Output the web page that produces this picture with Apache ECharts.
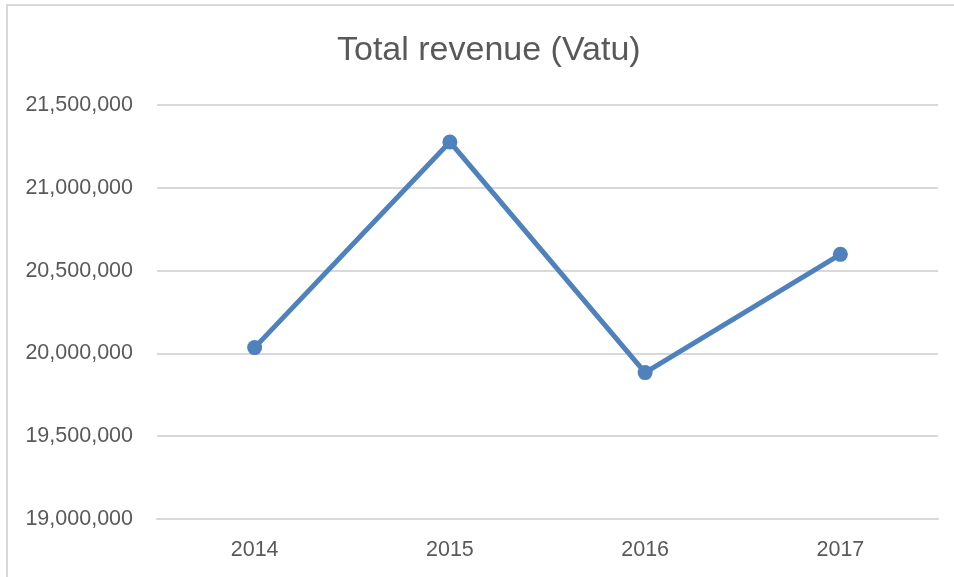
<!DOCTYPE html>
<html>
<head>
<meta charset="utf-8">
<script src="https://cdn.jsdelivr.net/npm/echarts@6/dist/echarts.min.js"></script>
<style>
  html, body { margin: 0; padding: 0; background: #fff; }
  #chart { width: 954px; height: 577px; }
</style>
</head>
<body>
<div id="chart"></div>
<script>
// data
var years = ["2014", "2015", "2016", "2017"];
var revenue = [20035000, 21277000, 19884000, 20598000];
var yMin = 19000000;
var yMax = 21500000;
var yStep = 500000;

var myChart = echarts.init(document.getElementById("chart"));
var font = "'Liberation Sans', Arial, sans-serif";

var option = {
  backgroundColor: "#fff",
  animation: false,
  title: {
    text: "Total revenue (Vatu)",
    left: 332,
    top: 29,
    textStyle: {
      color: "#595959",
      fontFamily: font,
      fontWeight: "normal",
      fontSize: 34,
    },
  },
  graphic: [
    {
      type: "rect",
      shape: { x: 7, y: 5, width: 1000, height: 1000 },
      style: { fill: "none", stroke: "#d9d9d9", lineWidth: 2 },
      silent: true,
    },
  ],
  grid: {
    left: 157,
    right: 16,
    top: 105,
    bottom: 58,
  },
  xAxis: {
    type: "category",
    data: years,
    boundaryGap: true,
    axisLine: { show: true, lineStyle: { color: "#d9d9d9", width: 2 } },
    axisTick: { show: false },
    axisLabel: {
      color: "#595959",
      fontFamily: font,
      fontSize: 21.5,
      margin: 20,
    },
  },
  yAxis: {
    type: "value",
    min: yMin,
    max: yMax,
    interval: yStep,
    axisLine: { show: false },
    axisTick: { show: false },
    splitLine: { lineStyle: { color: "#d9d9d9", width: 2 } },
    axisLabel: {
      color: "#595959",
      fontFamily: font,
      fontSize: 21.5,
      margin: 24,
      formatter: function (v) {
        return v.toLocaleString("en-US");
      },
    },
  },
  series: [
    {
      type: "line",
      data: revenue,
      symbol: "circle",
      symbolSize: 15,
      lineStyle: { color: "#4f81bd", width: 5 },
      itemStyle: { color: "#4f81bd" },
    },
  ],
};

option && myChart.setOption(option);
</script>
</body>
</html>
